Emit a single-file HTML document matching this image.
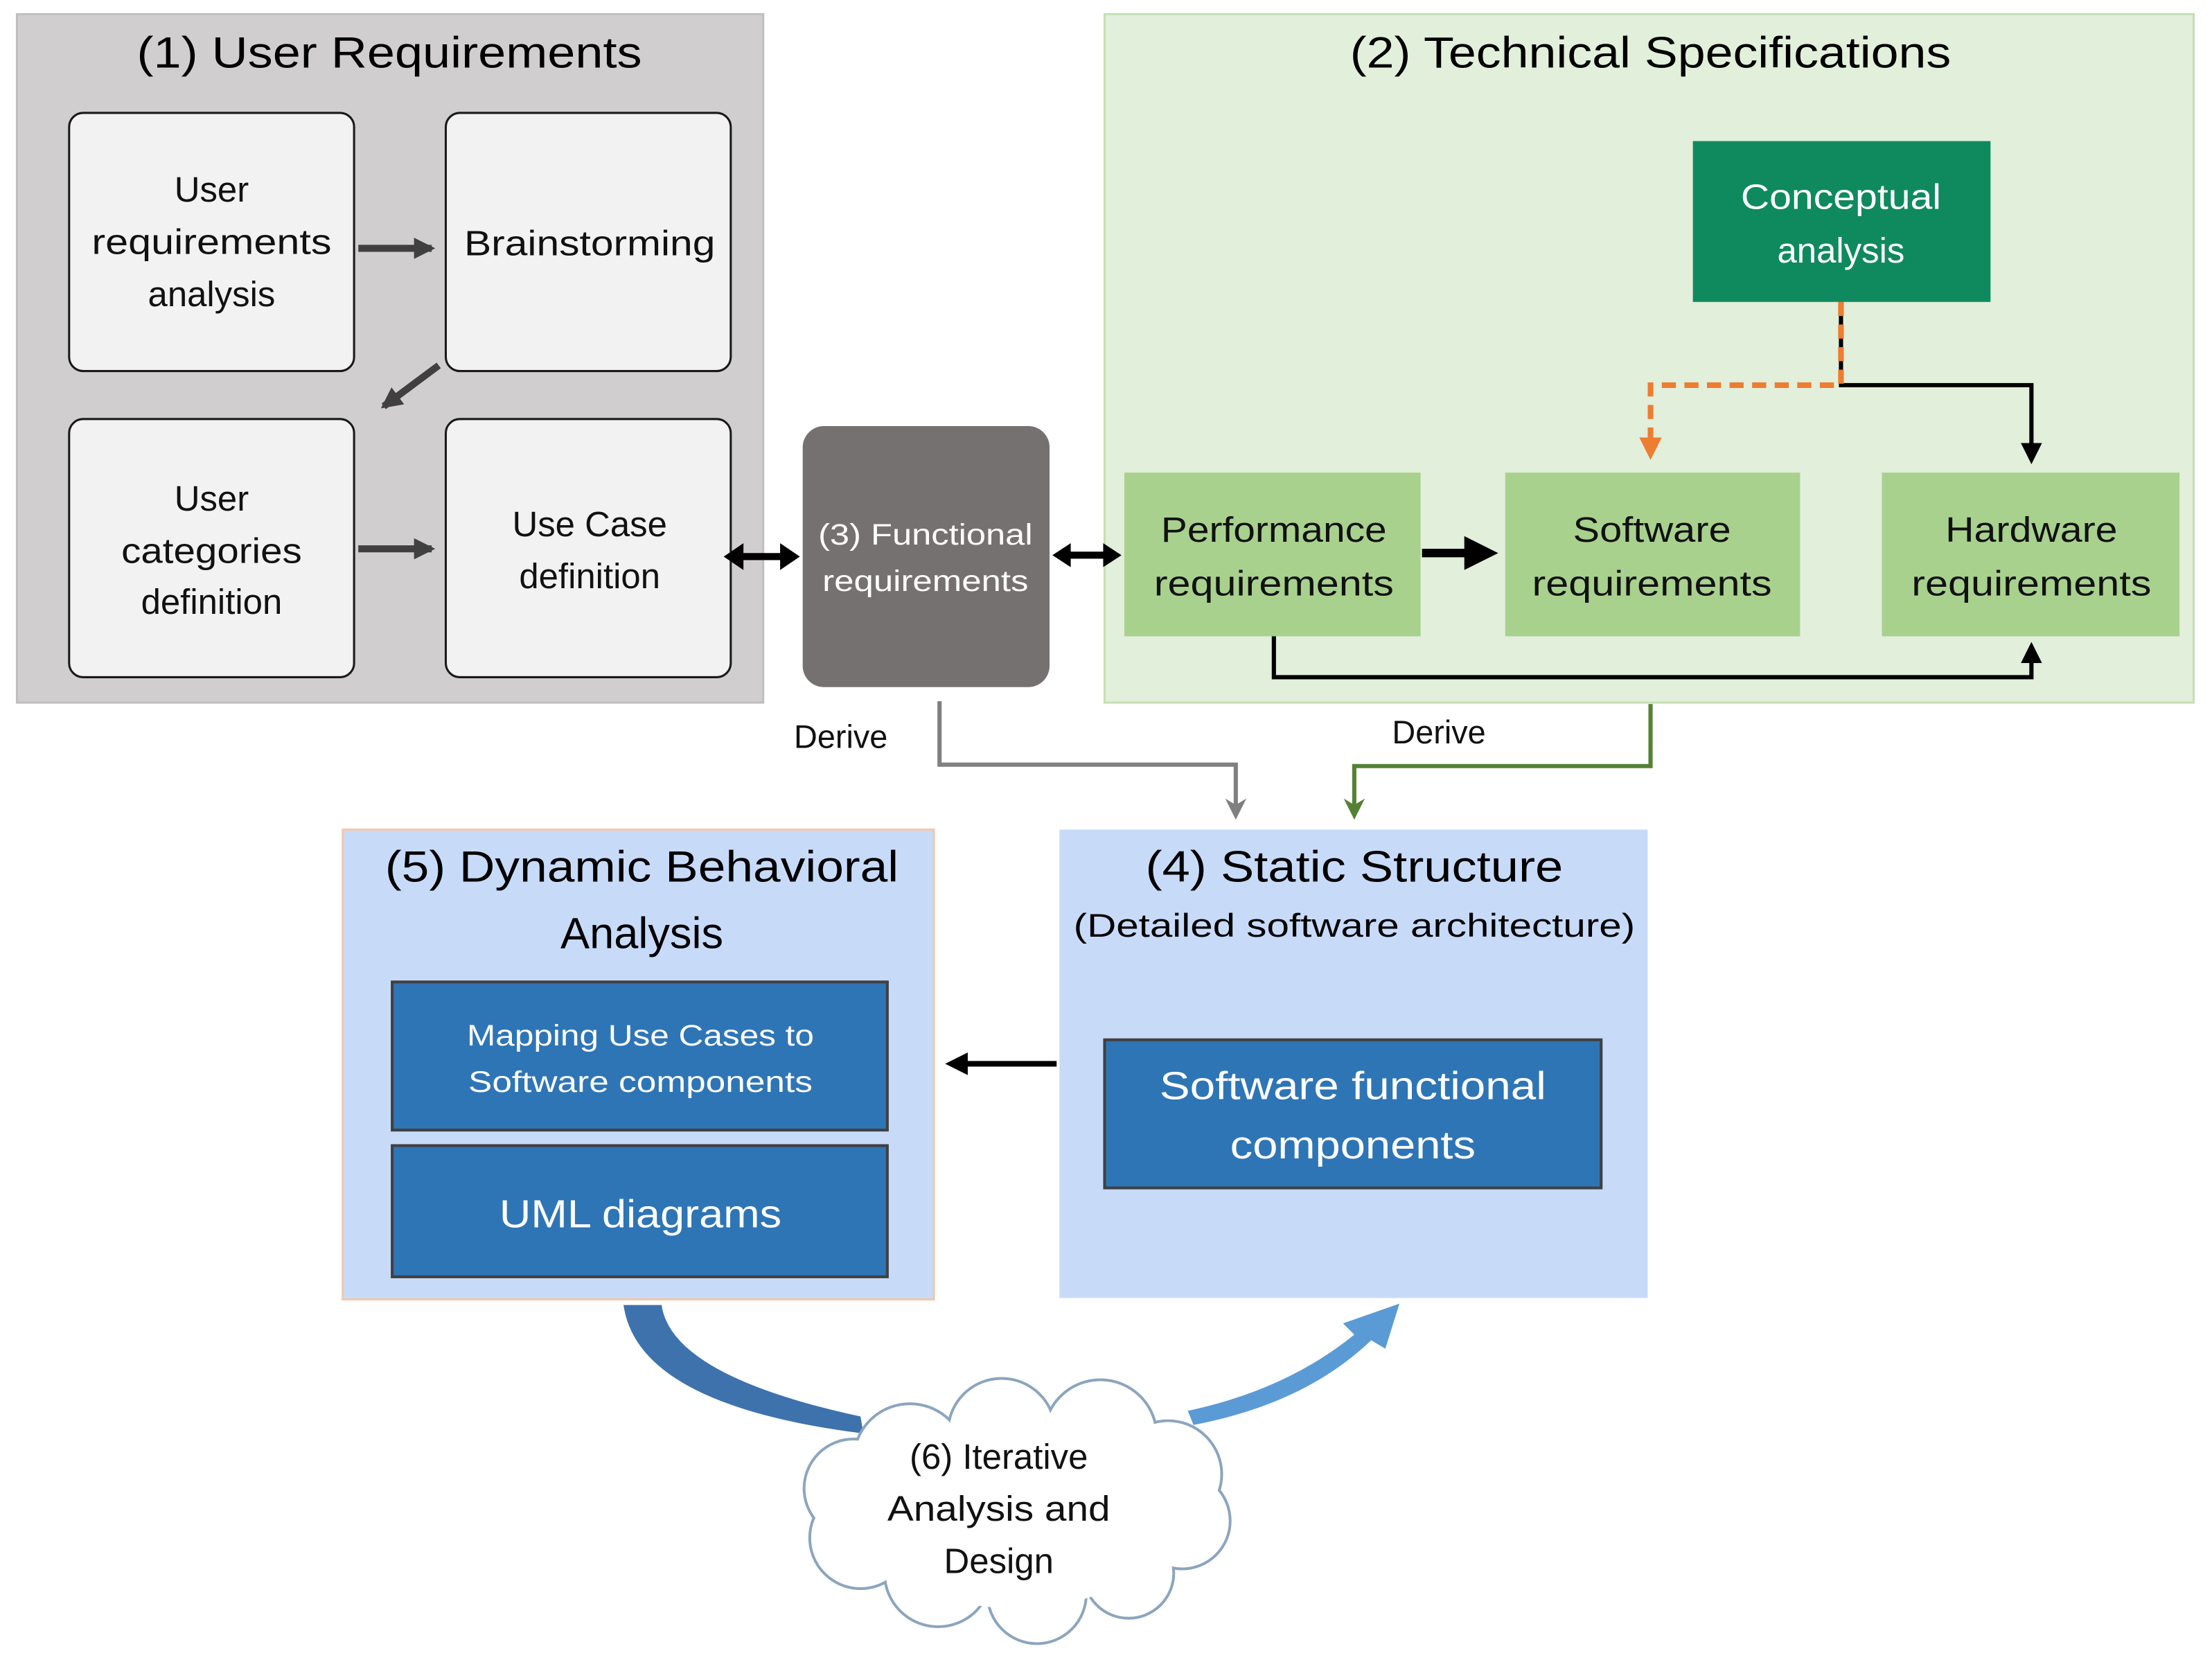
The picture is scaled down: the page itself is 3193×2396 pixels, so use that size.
<!DOCTYPE html>
<html><head><meta charset="utf-8"><style>
html,body{margin:0;padding:0;background:#fff;}
svg{display:block;}
text{font-family:"Liberation Sans",sans-serif;}
</style></head><body>
<svg width="3193" height="2396" viewBox="0 0 1568 1176.6" xmlns="http://www.w3.org/2000/svg">
<defs>
<marker id="ab" markerWidth="4" markerHeight="4" refX="3" refY="2" orient="auto" markerUnits="strokeWidth"><path d="M0,0 L4,2 L0,4 Z" fill="#000"/></marker>
<marker id="abs" markerWidth="5" markerHeight="5" refX="4" refY="2.5" orient="auto" markerUnits="strokeWidth"><path d="M0,0 L5,2.5 L0,5 Z" fill="#000"/></marker>
<marker id="ad" markerWidth="3" markerHeight="3" refX="2.5" refY="1.5" orient="auto" markerUnits="strokeWidth"><path d="M0,0 L3,1.5 L0,3 Z" fill="#404040"/></marker>
<marker id="ao" markerWidth="4" markerHeight="4" refX="3" refY="2" orient="auto" markerUnits="strokeWidth"><path d="M0,0 L4,2 L0,4 Z" fill="#ed7d31"/></marker>
<marker id="ag" markerWidth="5" markerHeight="5" refX="4" refY="2.5" orient="auto" markerUnits="strokeWidth"><path d="M0,0 L5,2.5 L0,5 L1.5,2.5 Z" fill="#808080"/></marker>
<marker id="agr" markerWidth="5" markerHeight="5" refX="4" refY="2.5" orient="auto" markerUnits="strokeWidth"><path d="M0,0 L5,2.5 L0,5 L1.5,2.5 Z" fill="#548235"/></marker>
</defs>

<!-- (1) -->
<rect x="12" y="10" width="529" height="488" fill="#d0cece" stroke="#bfbfbf" stroke-width="1.5"/>
<text x="276" y="48" font-size="31" text-anchor="middle" textLength="358" lengthAdjust="spacingAndGlyphs">(1) User Requirements</text>
<g fill="#f2f2f2" stroke="#1a1a1a" stroke-width="1.5">
<rect x="49" y="80" width="202" height="183" rx="10"/>
<rect x="316" y="80" width="202" height="183" rx="10"/>
<rect x="49" y="297" width="202" height="183" rx="10"/>
<rect x="316" y="297" width="202" height="183" rx="10"/>
</g>
<g font-size="25" text-anchor="middle" fill="#111">
<text x="150" y="143">User</text>
<text x="150" y="180" textLength="170" lengthAdjust="spacingAndGlyphs">requirements</text>
<text x="150" y="217">analysis</text>
<text x="418" y="181" textLength="178" lengthAdjust="spacingAndGlyphs">Brainstorming</text>
<text x="150" y="362">User</text>
<text x="150" y="399" textLength="128" lengthAdjust="spacingAndGlyphs">categories</text>
<text x="150" y="435">definition</text>
<text x="418" y="380">Use Case</text>
<text x="418" y="417">definition</text>
</g>
<g stroke="#404040" stroke-width="5" marker-end="url(#ad)">
<line x1="254" y1="176" x2="306" y2="176"/>
<line x1="254" y1="389" x2="306" y2="389"/>
<line x1="311" y1="259" x2="272" y2="288"/>
</g>

<!-- (2) -->
<rect x="783" y="10" width="772" height="488" fill="#e2efda" stroke="#c5e0b4" stroke-width="1.5"/>
<text x="1170" y="48" font-size="31" text-anchor="middle" textLength="426" lengthAdjust="spacingAndGlyphs">(2) Technical Specifications</text>
<rect x="1200" y="100" width="211" height="114" fill="#0f8a5f"/>
<text x="1305" y="148" font-size="25" fill="#fff" text-anchor="middle" textLength="142" lengthAdjust="spacingAndGlyphs">Conceptual</text>
<text x="1305" y="186" font-size="25" fill="#fff" text-anchor="middle">analysis</text>
<g fill="#a9d18e">
<rect x="797" y="335" width="210" height="116"/>
<rect x="1067" y="335" width="209" height="116"/>
<rect x="1334" y="335" width="211" height="116"/>
</g>
<g font-size="25" text-anchor="middle" fill="#111">
<text x="903" y="384" textLength="160" lengthAdjust="spacingAndGlyphs">Performance</text>
<text x="903" y="422" textLength="170" lengthAdjust="spacingAndGlyphs">requirements</text>
<text x="1171" y="384" textLength="112" lengthAdjust="spacingAndGlyphs">Software</text>
<text x="1171" y="422" textLength="170" lengthAdjust="spacingAndGlyphs">requirements</text>
<text x="1440" y="384" textLength="122" lengthAdjust="spacingAndGlyphs">Hardware</text>
<text x="1440" y="422" textLength="170" lengthAdjust="spacingAndGlyphs">requirements</text>
</g>
<line x1="1008" y1="392" x2="1056" y2="392" stroke="#000" stroke-width="6" marker-end="url(#ab)"/>
<polyline points="1305,214 1305,273 1440,273 1440,326" fill="none" stroke="#000" stroke-width="3" marker-end="url(#abs)"/>
<polyline points="1305,214 1305,273 1170,273 1170,322" fill="none" stroke="#ed7d31" stroke-width="4" stroke-dasharray="10,6" marker-end="url(#ao)"/>
<polyline points="903,451 903,480 1440,480 1440,458" fill="none" stroke="#000" stroke-width="3" marker-end="url(#abs)"/>

<!-- (3) -->
<rect x="569" y="302" width="175" height="185" rx="15" fill="#767171"/>
<text x="656" y="386" font-size="21" fill="#fff" text-anchor="middle" textLength="152" lengthAdjust="spacingAndGlyphs">(3) Functional</text>
<text x="656" y="419" font-size="21" fill="#fff" text-anchor="middle" textLength="146" lengthAdjust="spacingAndGlyphs">requirements</text>
<g fill="#000">
<rect x="522" y="392" width="36" height="5"/>
<path d="M513,394.5 L527,385 L527,404 Z"/>
<path d="M567,394.5 L553,385 L553,404 Z"/>
<rect x="755" y="391" width="32" height="5"/>
<path d="M746,393.5 L759,385 L759,402 Z"/>
<path d="M795,393.5 L782,385 L782,402 Z"/>
</g>

<!-- derive -->
<polyline points="666,497 666,542 876,542 876,578" fill="none" stroke="#808080" stroke-width="3" marker-end="url(#ag)"/>
<polyline points="1170,499 1170,543 960,543 960,578" fill="none" stroke="#548235" stroke-width="3" marker-end="url(#agr)"/>
<text x="596" y="530" font-size="23" text-anchor="middle" fill="#111">Derive</text>
<text x="1020" y="527" font-size="23" text-anchor="middle" fill="#111">Derive</text>

<!-- (5) -->
<rect x="243" y="588" width="419" height="333" fill="#c7dbf9" stroke="#f4c7a8" stroke-width="1.5"/>
<text x="455" y="625" font-size="31" text-anchor="middle" textLength="364" lengthAdjust="spacingAndGlyphs">(5) Dynamic Behavioral</text>
<text x="455" y="672" font-size="31" text-anchor="middle">Analysis</text>
<rect x="278" y="696" width="351" height="105" fill="#2e75b6" stroke="#404040" stroke-width="2"/>
<text x="454" y="741" font-size="21" fill="#fff" text-anchor="middle" textLength="246" lengthAdjust="spacingAndGlyphs">Mapping  Use Cases to</text>
<text x="454" y="774" font-size="21" fill="#fff" text-anchor="middle" textLength="244" lengthAdjust="spacingAndGlyphs">Software components</text>
<rect x="278" y="812" width="351" height="93" fill="#2e75b6" stroke="#404040" stroke-width="2"/>
<text x="454" y="870" font-size="28" fill="#fff" text-anchor="middle" textLength="200" lengthAdjust="spacingAndGlyphs">UML diagrams</text>

<!-- (4) -->
<rect x="751" y="588" width="417" height="332" fill="#c7dbf9"/>
<text x="960" y="625" font-size="31" text-anchor="middle" textLength="296" lengthAdjust="spacingAndGlyphs">(4) Static Structure</text>
<text x="960" y="664" font-size="23" text-anchor="middle" textLength="398" lengthAdjust="spacingAndGlyphs">(Detailed software architecture)</text>
<rect x="783" y="737" width="352" height="105" fill="#2e75b6" stroke="#404040" stroke-width="2"/>
<text x="959" y="779" font-size="28" fill="#fff" text-anchor="middle" textLength="274" lengthAdjust="spacingAndGlyphs">Software functional</text>
<text x="959" y="821" font-size="28" fill="#fff" text-anchor="middle" textLength="174" lengthAdjust="spacingAndGlyphs">components</text>
<line x1="749" y1="754" x2="674" y2="754" stroke="#000" stroke-width="4" marker-end="url(#ab)"/>

<!-- curved arrows -->
<path d="M442,925 L469,925 Q476,975 610,1004 L612,1016 Q452,996 442,925 Z" fill="#3d72ad"/>
<path d="M842,1000 Q912,985 960,946 L952,938 L992,924 L982,956 L972,950 Q925,995 846,1010 Z" fill="#5b9bd5"/>

<!-- cloud -->
<g fill="#fff" stroke="#8ca5be" stroke-width="2">
<circle cx="645" cy="1035" r="40"/>
<circle cx="710" cy="1015" r="38"/>
<circle cx="780" cy="1018" r="40"/>
<circle cx="828" cy="1045" r="38"/>
<circle cx="838" cy="1078" r="34"/>
<circle cx="800" cy="1115" r="32"/>
<circle cx="735" cy="1130" r="35"/>
<circle cx="665" cy="1115" r="38"/>
<circle cx="610" cy="1090" r="36"/>
<circle cx="605" cy="1055" r="35"/>
</g>
<g fill="#fff">
<circle cx="645" cy="1035" r="39"/>
<circle cx="710" cy="1015" r="37"/>
<circle cx="780" cy="1018" r="39"/>
<circle cx="828" cy="1045" r="37"/>
<circle cx="838" cy="1078" r="33"/>
<circle cx="800" cy="1115" r="31"/>
<circle cx="735" cy="1130" r="34"/>
<circle cx="665" cy="1115" r="37"/>
<circle cx="610" cy="1090" r="35"/>
<circle cx="605" cy="1055" r="34"/>
<ellipse cx="720" cy="1075" rx="110" ry="65"/>
</g>
<g font-size="25" text-anchor="middle" fill="#111">
<text x="708" y="1041">(6) Iterative</text>
<text x="708" y="1078" textLength="158" lengthAdjust="spacingAndGlyphs">Analysis and</text>
<text x="708" y="1115">Design</text>
</g>
</svg>
</body></html>
